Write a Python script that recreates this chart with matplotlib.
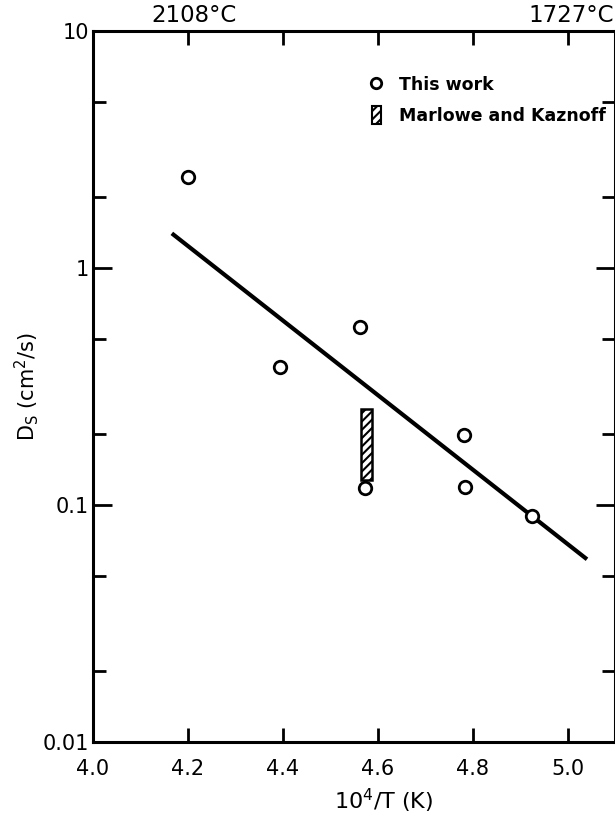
import matplotlib
matplotlib.use("Agg")
import matplotlib.pyplot as plt
from matplotlib.lines import Line2D
from matplotlib.patches import Patch
import numpy as np

# Data
this_work_x = [4.20, 4.394, 4.562, 4.573, 4.781, 4.783, 4.924]
this_work_y = [2.42, 0.382, 0.563, 0.118, 0.197, 0.119, 0.090]
fit_x = [4.166, 5.04]
fit_y = [1.40, 0.059]
mk_x = [4.575]
mk_low = [0.128]
mk_high = [0.253]
x_ticks = [4.0, 4.2, 4.4, 4.6, 4.8, 5.0]
x_ticklabels = ["4.0", "4.2", "4.4", "4.6", "4.8", "5.0"]
y_ticks = [0.01, 0.1, 1, 10]
y_ticklabels = ["0.01", "0.1", "1", "10"]
y_minor = [0.02, 0.05, 0.2, 0.5, 2, 5]
top_labels_x = [4.212, 5.006]
top_labels = ["2108°C", "1727°C"]

plt.rcParams['font.family'] = ['DejaVu Sans']
plt.rcParams['hatch.linewidth'] = 1.5

fig = plt.figure(figsize=(6.15, 8.14), dpi=100)
ax = fig.add_axes([0.1512, 0.0885, 0.8496, 0.8734])
ax.set_yscale('log')
ax.set_xlim(4.0, 5.1)
ax.set_ylim(0.01, 10)

ax.plot(fit_x, fit_y, color='black', lw=3.0, solid_capstyle='butt')
ax.plot(this_work_x, this_work_y, linestyle='none', marker='o', ms=9,
        mfc='white', mec='black', mew=2.0, zorder=5)
ax.bar(mk_x, np.array(mk_high) - np.array(mk_low), bottom=mk_low, width=0.023,
       color='white', edgecolor='black', hatch='////', lw=1.8, zorder=4)

for s in ax.spines.values():
    s.set_linewidth(2.2)

ax.set_xticks(x_ticks)
ax.set_xticklabels(x_ticklabels)
ax.set_yticks(y_ticks)
ax.set_yticklabels(y_ticklabels)
ax.set_yticks(y_minor, minor=True)
ax.yaxis.set_minor_formatter(plt.NullFormatter())
ax.xaxis.set_minor_locator(plt.NullLocator())
ax.tick_params(axis='x', which='major', direction='in', length=10, width=2.0,
               labelsize=15, top=True, pad=12)
ax.tick_params(axis='y', which='major', direction='in', length=14, width=2.0,
               labelsize=15, right=True, pad=3)
ax.tick_params(axis='y', which='minor', direction='in', length=9.5, width=2.0, right=True)

for xv, lab in zip(top_labels_x, top_labels):
    ax.text(xv, 1.006, lab, transform=ax.get_xaxis_transform(), ha='center',
            va='bottom', fontsize=16.5)

ax.set_xlabel(r"10$^4$/T (K)", fontsize=16)
ax.xaxis.set_label_coords(0.556, -0.063)
ax.set_ylabel(r"D$_\mathrm{S}$ (cm$^2$/s)", fontsize=15)
ax.yaxis.set_label_coords(-0.10, 0.5)

handles = [Line2D([], [], linestyle='none', marker='o', ms=7.5, mfc='white', mec='black', mew=2.0),
           Patch(facecolor='white', edgecolor='black', hatch='////', lw=1.5)]
leg = ax.legend(handles, ["This work", "Marlowe and Kaznoff"], loc='upper left',
                bbox_to_anchor=(0.510, 0.955), frameon=False, handlelength=0.55,
                handleheight=1.2, handletextpad=1.05, labelspacing=0.72,
                borderaxespad=0.3,
                prop={'family': ['DejaVu Sans'], 'weight': 'bold', 'size': 12.5})

fig.savefig("out.png", dpi=100)
